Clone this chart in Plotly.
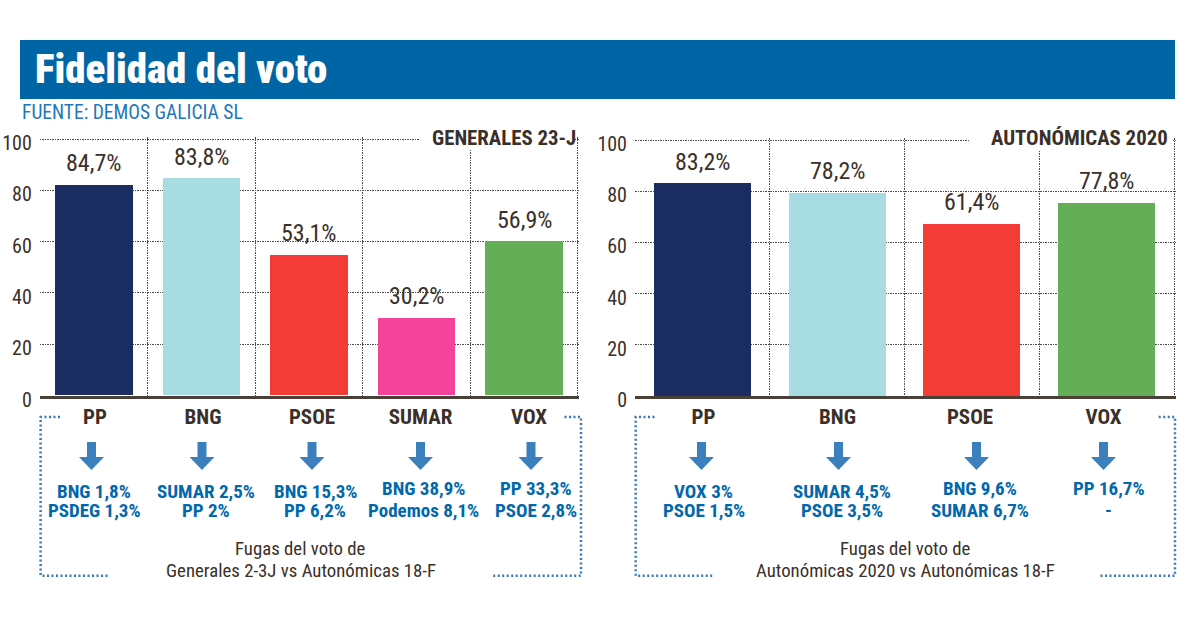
import plotly.graph_objects as go

W, H = 1198, 620
NARROW = "Roboto Condensed, Liberation Sans Narrow, Arial Narrow, Roboto, sans-serif"
DARK = "#3a3029"
BLUE = "#0068ab"

# ---- data ----
gen_parties = ["PP", "BNG", "PSOE", "SUMAR", "VOX"]
gen_bars = [82, 84.5, 54.7, 30.1, 60]
gen_labels = ["84,7%", "83,8%", "53,1%", "30,2%", "56,9%"]
gen_first = ["BNG 1,8%", "SUMAR 2,5%", "BNG 15,3%", "BNG 38,9%", "PP 33,3%"]
gen_second = ["PSDEG 1,3%", "PP 2%", "PP 6,2%", "Podemos 8,1%", "PSOE 2,8%"]

aut_parties = ["PP", "BNG", "PSOE", "VOX"]
aut_bars = [83, 79.2, 67, 75.2]
aut_labels = ["83,2%", "78,2%", "61,4%", "77,8%"]
aut_first = ["VOX 3%", "SUMAR 4,5%", "BNG 9,6%", "PP 16,7%"]
aut_second = ["PSOE 1,5%", "PSOE 3,5%", "SUMAR 6,7%", "-"]

gen_colors = ["#1b2c60", "#a6dce2", "#f43c37", "#f5439a", "#63ae57"]
aut_colors = ["#1b2c60", "#a6dce2", "#f43c37", "#63ae57"]
y_ticks = [0, 20, 40, 60, 80, 100]


def px(x):
    return x / W


def py(y):
    return 1 - y / H


annotations, shapes = [], []


def text(x, y, s, size, color=DARK, weight=400):
    annotations.append(dict(
        x=px(x), y=py(y), xref="paper", yref="paper", text=s, showarrow=False,
        xanchor="center", yanchor="middle",
        font=dict(family=NARROW, size=size, color=color, weight=weight),
    ))


def arrow(cx):
    pts = [(cx - 4.5, 442), (cx + 4.5, 442), (cx + 4.5, 457), (cx + 12.5, 457),
           (cx, 470), (cx - 12.5, 457), (cx - 4.5, 457)]
    path = "M" + " L".join(f"{px(a):.5f},{py(b):.5f}" for a, b in pts) + " Z"
    shapes.append(dict(type="path", xref="paper", yref="paper", path=path,
                       fillcolor="#3b80bc", line_width=0))


def bracket(x0, x1, top_left, top_right, bot_left, bot_right):
    y0, y1 = 417, 575.7
    segs = [[(top_left, y0), (x0, y0), (x0, y1), (bot_left, y1)],
            [(top_right, y0), (x1, y0), (x1, y1), (bot_right, y1)]]
    for seg in segs:
        path = "M" + " L".join(f"{px(a):.5f},{py(b):.5f}" for a, b in seg)
        shapes.append(dict(type="path", xref="paper", yref="paper", path=path,
                           line=dict(color="#3a78bb", width=2.5, dash="2px,2.5px")))


fig = go.Figure()
X_PAD = 0.015  # columns of slack so the last vertical gridline is kept
Y_PAD = 0.6    # units of slack so the gridline at 100 is kept


def panel(n, parties, bars, labels, colors, x0, x1, ytop, ybase, label_px):
    xa, ya = f"x{n}", f"y{n}"
    xs = list(range(len(parties)))
    fig.add_trace(go.Bar(x=xs, y=bars, width=0.72, marker=dict(color=colors, line_width=0),
                         xaxis=xa, yaxis=ya, showlegend=False, hoverinfo="skip"))
    col = (x1 - x0) / len(parties)
    unit = (ybase - ytop) / 100
    grid = dict(showgrid=True, gridcolor="#4d4d4d", gridwidth=1, griddash="1.5px,1px")
    layout_x = dict(
        domain=[px(x0), px(x1 + X_PAD * col)], range=[-0.5, len(parties) - 0.5 + X_PAD], anchor=ya,
        automargin=False,
        tickmode="array",
        tickvals=[(p - x0) / col - 0.5 for p in label_px], ticktext=parties,
        tickfont=dict(family=NARROW, size=21, color=DARK, weight=700),
        ticks="", showgrid=False, zeroline=False, showline=True,
        linecolor="#4a4037", linewidth=3,
        minor=dict(tickmode="array", tickvals=[i + 0.5 for i in xs], ticks="", **grid),
    )
    layout_y = dict(
        domain=[py(ybase), py(ytop - Y_PAD * unit)], range=[0, 100 + Y_PAD], anchor=xa,
        automargin=False,
        tickmode="array", tickvals=y_ticks, zeroline=False, showline=False,
        tickfont=dict(family=NARROW, size=20, color=DARK),
        ticks="outside", ticklen=3, tickcolor="rgba(0,0,0,0)", ticklabelshift=4,
        **grid,
    )
    suffix = "" if n == "" else str(n)
    fig.update_layout({f"xaxis{suffix}": layout_x, f"yaxis{suffix}": layout_y})
    for i, (b, lab) in enumerate(zip(bars, labels)):
        annotations.append(dict(x=i, y=b, xref=xa, yref=ya, text=lab, showarrow=False,
                                yanchor="middle", yshift=22,
                                font=dict(family=NARROW, size=24, color=DARK)))


# header
shapes.append(dict(type="rect", xref="paper", yref="paper", x0=px(20), x1=px(1175),
                   y0=py(99), y1=py(40), fillcolor="#0065a4", line_width=0))
text(181, 69, "Fidelidad del voto", 41, "white", 900)
text(132.5, 112, "FUENTE: DEMOS GALICIA SL", 19.5, "#1e78b8")

panel("", gen_parties, gen_bars, gen_labels, gen_colors, 39.8, 577.8, 139, 395.5,
      [95, 203, 312, 420.5, 529])
panel(2, aut_parties, aut_bars, aut_labels, aut_colors, 635, 1174, 140, 396,
      [703.5, 837.5, 970, 1103.5])

# white patches behind panel headings
shapes.append(dict(type="rect", xref="paper", yref="paper", x0=px(420), x1=px(575),
                   y0=py(150), y1=py(130), fillcolor="white", line_width=0))
shapes.append(dict(type="rect", xref="paper", yref="paper", x0=px(970), x1=px(1172),
                   y0=py(150), y1=py(130), fillcolor="white", line_width=0))
text(503.5, 138, "GENERALES 23-J", 20.8, DARK, 700)
text(1079.5, 138, "AUTONÓMICAS 2020", 20.8, DARK, 700)

# leaks
gen_text_x = [94, 205.5, 315, 424, 536]
gen_y1 = [491.5, 491.5, 491.5, 488.5, 488.5]
gen_arrow_x = [91.5, 202, 312, 420.5, 531]
for cx, tx, y1, a, b in zip(gen_arrow_x, gen_text_x, gen_y1, gen_first, gen_second):
    arrow(cx)
    text(tx, y1, a, 19, BLUE, 700)
    text(tx, 510.7, b, 19, BLUE, 700)

aut_text_x = [703.5, 841.5, 980, 1108.5]
aut_y1 = [491.5, 491.5, 488.5, 488.5]
aut_arrow_x = [701.5, 838.5, 976.5, 1103.5]
for cx, tx, y1, a, b in zip(aut_arrow_x, aut_text_x, aut_y1, aut_first, aut_second):
    arrow(cx)
    text(tx, y1, a, 19, BLUE, 700)
    text(tx, 510.7, b, 19, BLUE, 700)

bracket(40.6, 581, 60, 564.5, 108, 493)
bracket(635.7, 1175, 654.5, 1158.7, 713, 1098.5)

text(300.5, 549, "Fugas del voto de", 18.8)
text(300.5, 571, "Generales 2-3J vs Autonómicas 18-F", 18.8)
text(905.5, 549, "Fugas del voto de", 18.8)
text(905.5, 571, "Autonómicas 2020 vs Autonómicas 18-F", 18.8)

fig.update_layout(
    width=W, height=H, autosize=False, margin=dict(l=0, r=0, t=0, b=0),
    paper_bgcolor="white", plot_bgcolor="white", showlegend=False,
    annotations=annotations, shapes=shapes, bargap=0,
)
css = "var s=document.createElement('style');s.textContent='svg text{font-stretch:75% !important}';document.head.appendChild(s);"
fig.write_html("out.html", post_script="document.body.style.margin='0';document.documentElement.style.overflow='hidden';" + css,
               config=dict(displayModeBar=False))
